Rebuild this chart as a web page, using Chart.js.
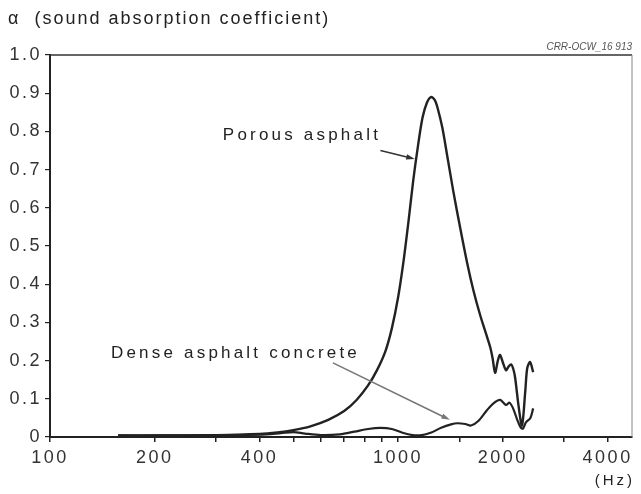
<!DOCTYPE html>
<html>
<head>
<meta charset="utf-8">
<script src="https://cdn.jsdelivr.net/npm/chart.js@4"></script>
<style>
    body { margin: 0; background: #fff; }
    canvas { display: block; }
</style>
</head>
<body>
<canvas id="absorptionChart" width="641" height="494"></canvas>
<script>
// Values (frequency in Hz, alpha)
const porousFreq = [157, 200, 300, 400, 450, 500, 560, 630, 700, 760, 820, 870, 920, 960, 1000, 1035, 1070, 1105, 1140, 1175, 1210, 1243, 1275, 1300, 1340, 1385, 1440, 1510, 1580, 1645, 1720, 1790, 1840, 1870, 1900, 1935, 1963, 2000, 2042, 2080, 2112, 2140, 2168, 2220, 2270, 2320, 2350, 2395, 2444];
const porousAlpha = [0.004, 0.004, 0.005, 0.008, 0.012, 0.018, 0.028, 0.045, 0.068, 0.097, 0.135, 0.175, 0.225, 0.285, 0.365, 0.455, 0.56, 0.67, 0.76, 0.835, 0.875, 0.89, 0.882, 0.86, 0.81, 0.735, 0.645, 0.545, 0.455, 0.385, 0.32, 0.27, 0.235, 0.205, 0.168, 0.20, 0.215, 0.195, 0.175, 0.185, 0.19, 0.18, 0.157, 0.08, 0.03, 0.12, 0.18, 0.196, 0.17];

const denseFreq = [157, 200, 300, 400, 460, 500, 540, 600, 680, 750, 820, 890, 960, 1030, 1100, 1170, 1240, 1330, 1420, 1480, 1560, 1620, 1700, 1800, 1880, 1963, 2042, 2090, 2140, 2200, 2250, 2285, 2330, 2400, 2444];
const denseAlpha = [0.004, 0.004, 0.005, 0.006, 0.01, 0.013, 0.009, 0.005, 0.007, 0.014, 0.021, 0.024, 0.021, 0.011, 0.005, 0.005, 0.011, 0.024, 0.033, 0.036, 0.034, 0.03, 0.042, 0.07, 0.088, 0.097, 0.084, 0.09, 0.075, 0.045, 0.025, 0.022, 0.038, 0.05, 0.075];

const xTickLabels = [100, 200, 400, 1000, 2000, 4000];
const xRange = [100, 4700];
const yRange = [0, 1];

const titleText = 'α  (sound absorption coefficient)';
const codeText = 'CRR-OCW_16 913';
const unitText = '(Hz)';

// labels with arrows, in data coordinates
const notes = [
    { text: 'Porous asphalt', at: [876, 0.79], from: [890, 0.75], to: [1117, 0.728], color: '#333' },
    { text: 'Dense asphalt concrete', at: [762, 0.22], from: [650, 0.194], to: [1409, 0.045], color: '#777' }
];

const FONT = '"Liberation Sans", Arial, sans-serif';
const INK = '#222';

function toPoints(xs, ys) {
    return xs.map((x, i) => ({ x: x, y: ys[i] }));
}

function drawArrow(ctx, x1, y1, x2, y2, color) {
    const ang = Math.atan2(y2 - y1, x2 - x1);
    const head = 9;
    ctx.save();
    ctx.strokeStyle = color;
    ctx.fillStyle = color;
    ctx.lineWidth = 1.6;
    ctx.beginPath();
    ctx.moveTo(x1, y1);
    ctx.lineTo(x2 - Math.cos(ang) * head * 0.8, y2 - Math.sin(ang) * head * 0.8);
    ctx.stroke();
    ctx.beginPath();
    ctx.moveTo(x2, y2);
    ctx.lineTo(x2 - head * Math.cos(ang - 0.3), y2 - head * Math.sin(ang - 0.3));
    ctx.lineTo(x2 - head * Math.cos(ang + 0.3), y2 - head * Math.sin(ang + 0.3));
    ctx.closePath();
    ctx.fill();
    ctx.restore();
}

const paperPlugin = {
    id: 'paper',
    beforeDraw(chart) {
        chart.ctx.letterSpacing = '2.5px';
    },
    beforeDatasetsDraw(chart) {
        const { ctx, chartArea: a } = chart;
        ctx.save();
        ctx.strokeStyle = '#333';
        ctx.lineWidth = 1.5;
        ctx.beginPath();
        ctx.moveTo(a.left, a.top);
        ctx.lineTo(a.right, a.top);
        ctx.stroke();
        ctx.strokeStyle = '#888';
        ctx.lineWidth = 1;
        ctx.beginPath();
        ctx.moveTo(a.right, a.top);
        ctx.lineTo(a.right, a.bottom);
        ctx.stroke();
        ctx.restore();
    },
    afterDraw(chart) {
        const { ctx, chartArea: a } = chart;
        const xs = chart.scales.x, ys = chart.scales.y;
        ctx.save();
        ctx.fillStyle = INK;
        ctx.textBaseline = 'middle';

        ctx.letterSpacing = '2px';
        ctx.font = '18px ' + FONT;
        ctx.textAlign = 'left';
        ctx.fillText(titleText, 8, 19);

        ctx.letterSpacing = '0px';
        ctx.font = 'italic 10px ' + FONT;
        ctx.fillStyle = '#555';
        ctx.textAlign = 'right';
        ctx.fillText(codeText, a.right, a.top - 8);

        ctx.fillStyle = INK;
        ctx.letterSpacing = '3px';
        ctx.font = '15px ' + FONT;
        ctx.fillText(unitText, a.right + 3, 481);

        ctx.letterSpacing = '3.2px';
        ctx.font = '17px ' + FONT;
        notes.forEach(n => {
            ctx.fillStyle = INK;
            ctx.textAlign = 'right';
            ctx.fillText(n.text, xs.getPixelForValue(n.at[0]) + 3, ys.getPixelForValue(n.at[1]));
            drawArrow(ctx,
                xs.getPixelForValue(n.from[0]), ys.getPixelForValue(n.from[1]),
                xs.getPixelForValue(n.to[0]), ys.getPixelForValue(n.to[1]), n.color);
        });
        ctx.restore();
    }
};

const lineStyle = {
    borderColor: INK,
    pointRadius: 0,
    fill: false,
    tension: 0.3
};

new Chart(document.getElementById('absorptionChart'), {
    type: 'line',
    data: {
        datasets: [
            { label: 'Porous asphalt', data: toPoints(porousFreq, porousAlpha), borderWidth: 2.4, ...lineStyle },
            { label: 'Dense asphalt concrete', data: toPoints(denseFreq, denseAlpha), borderWidth: 2.2, ...lineStyle }
        ]
    },
    options: {
        responsive: false,
        animation: false,
        layout: { padding: { left: 0, top: 55, right: 9, bottom: 0 } },
        plugins: {
            legend: { display: false },
            tooltip: { enabled: false }
        },
        scales: {
            x: {
                type: 'logarithmic',
                min: xRange[0],
                max: xRange[1],
                afterFit(scale) { scale.height = 57; },
                grid: { drawOnChartArea: false, tickLength: 5, color: INK, lineWidth: 1.5 },
                border: { color: INK, width: 2 },
                ticks: {
                    autoSkip: false,
                    maxRotation: 0,
                    padding: 5,
                    color: '#333',
                    font: { family: FONT, size: 18 },
                    callback: v => {
                        if (v >= xRange[1]) return null;
                        return xTickLabels.includes(v) ? String(v) : '';
                    }
                }
            },
            y: {
                min: yRange[0],
                max: yRange[1],
                afterFit(scale) { scale.width = 50; },
                grid: { drawOnChartArea: false, tickLength: 5, color: INK, lineWidth: 1.2 },
                border: { color: INK, width: 2 },
                ticks: {
                    stepSize: 0.1,
                    padding: 3,
                    color: '#333',
                    font: { family: FONT, size: 18 },
                    callback: v => (v === 0 ? '0' : v.toFixed(1))
                }
            }
        }
    },
    plugins: [paperPlugin]
});
</script>
</body>
</html>
